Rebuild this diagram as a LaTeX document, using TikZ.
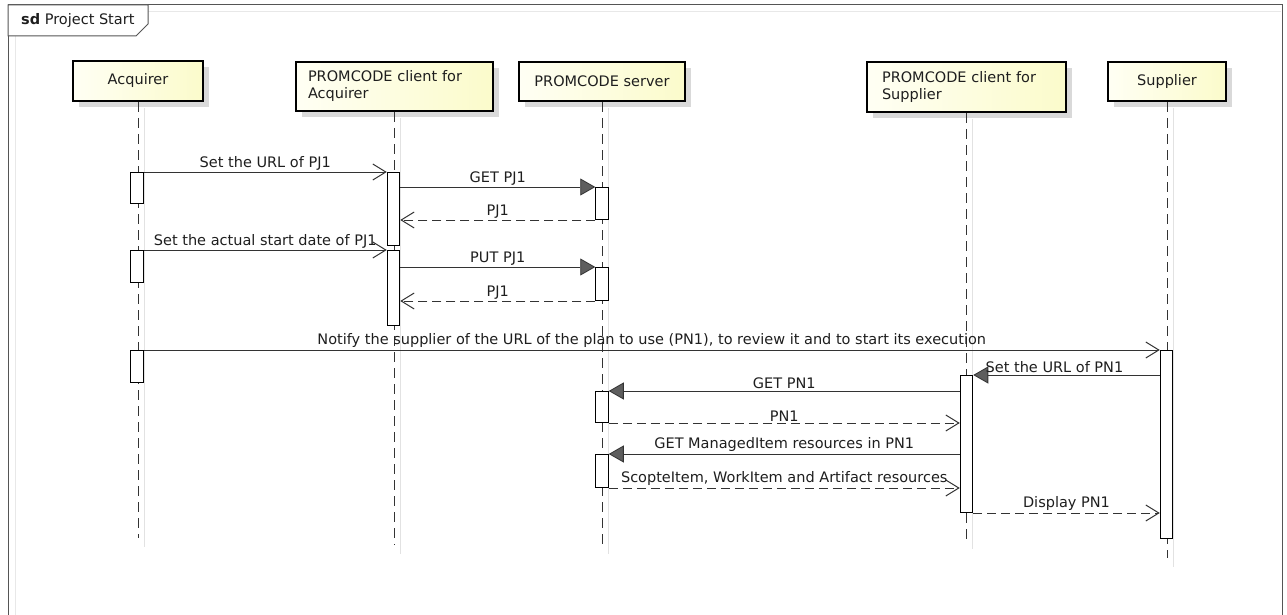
\documentclass[tikz,border=0pt]{standalone}
\usepackage{fontspec}
\setmainfont{DejaVu Sans}
\usetikzlibrary{arrows.meta,shadows,calc}
\definecolor{frameC}{HTML}{555555}
\definecolor{innerC}{HTML}{E8E8E8}
\definecolor{hdL}{HTML}{FFFFF4}
\definecolor{hdR}{HTML}{FBFBCB}
\definecolor{shadowC}{HTML}{D9D9D9}
\definecolor{lineC}{HTML}{333333}
\definecolor{lifeShC}{HTML}{E2E2E2}
\definecolor{tipC}{HTML}{5E5E5E}
\definecolor{txtC}{HTML}{1E1E1E}
\begin{document}
\begin{tikzpicture}[x=1pt,y=-1pt,
  font=\fontsize{14.5}{17}\selectfont, text=txtC,
  frameline/.style={draw=frameC, line width=1pt},
  innerline/.style={draw=innerC, line width=1pt},
  headbox/.style={draw=black, line width=2pt, left color=hdL, right color=hdR, inner sep=0pt,
    general shadow={fill=shadowC, shadow xshift=6pt, shadow yshift=-6pt}},
  lifeline/.style={draw=lineC, line width=1pt, dash pattern=on 10pt off 6pt},
  lifeshadow/.style={draw=lifeShC, line width=1pt},
  actbar/.style={draw=black, fill=white, line width=1pt, inner sep=0pt, minimum width=12.5pt, anchor=north},
  msg/.style={draw=lineC, line width=1pt},
  openarrow/.style={msg, -{Straight Barb[length=13pt, width=16pt, line width=1pt]}},
  fillarrow/.style={msg, -{Triangle[length=15pt, width=17pt, fill=tipC, color=lineC, line width=0.8pt]}},
  retarrow/.style={openarrow, dash pattern=on 9pt off 5pt},
  lbl/.style={above, inner sep=1.5pt}
]
\useasboundingbox (0,0) rectangle (1287,615);

% frame
\draw[innerline] (148,12) -- (1281,12);
\draw[innerline] (15,36) -- (15,615);
\draw[frameline] (8,615) -- (8,5) -- (1282,5) -- (1282,615);
\draw[frameline, fill=white] (8,5) -- (148,5) -- (148,24) -- (136,36) -- (8,36) -- cycle;
\node[anchor=west, inner sep=0pt] (title) at (21,21) {\textbf{sd} Project Start};

% heads
\node[headbox, minimum width=130pt, minimum height=40pt] (acq) at (138,81) {Acquirer};
\node[headbox, minimum width=197pt, minimum height=49pt, align=left, text width=173pt] (ca) at (394.5,86.5) {PROMCODE client for\\Acquirer};
\node[headbox, minimum width=166pt, minimum height=39pt] (srv) at (602,81.5) {PROMCODE server};
\node[headbox, minimum width=199pt, minimum height=50pt, align=left, text width=169pt] (cs) at (966.5,87) {PROMCODE client for\\Supplier};
\node[headbox, minimum width=118pt, minimum height=39pt] (sup) at (1167,81.5) {Supplier};

% lifeline ends
\coordinate (acqE) at (138,538);
\coordinate (caE) at (394.5,545);
\coordinate (srvE) at (602,545);
\coordinate (csE) at (966.5,540);
\coordinate (supE) at (1167,558);

\foreach \h in {acq,ca,srv,cs,sup}{
  \draw[lifeshadow] ($(\h.south)+(6,6)$) -- ($(\h E)+(6,9)$);
  \draw[lifeline] (\h.south) -- (\h E);
}

% activation bars
\node[actbar, minimum height=31pt] (acqB1) at (137,172) {};
\node[actbar, minimum height=32pt] (acqB2) at (137,250) {};
\node[actbar, minimum height=32pt] (acqB3) at (137,350) {};
\node[actbar, minimum height=73pt] (caB1) at (393.5,172) {};
\node[actbar, minimum height=75pt] (caB2) at (393.5,250) {};
\node[actbar, minimum height=32pt] (srvB1) at (602,187) {};
\node[actbar, minimum height=33pt] (srvB2) at (602,267) {};
\node[actbar, minimum height=31pt] (srvB3) at (602,391) {};
\node[actbar, minimum height=33pt] (srvB4) at (602,454) {};
\node[actbar, minimum height=137pt] (csB1) at (966.5,375) {};
\node[actbar, minimum height=188pt] (supB1) at (1166.5,350) {};

% messages
\draw[openarrow] (acqB1.north east) -- node[lbl] {Set the URL of PJ1} (caB1.north west);
\draw[fillarrow] (caB1.east |- srvB1.north) -- node[lbl] {GET PJ1} (srvB1.north west);
\draw[retarrow] (srvB1.south west) -- node[lbl] {PJ1} (caB1.east |- srvB1.south);
\draw[openarrow] (acqB2.north east) -- node[lbl] {Set the actual start date of PJ1} (caB2.north west);
\draw[fillarrow] (caB2.east |- srvB2.north) -- node[lbl] {PUT PJ1} (srvB2.north west);
\draw[retarrow] (srvB2.south west) -- node[lbl] {PJ1} (caB2.east |- srvB2.south);
\draw[openarrow] (acqB3.north east) -- node[lbl] {Notify the supplier of the URL of the plan to use (PN1), to review it and to start its execution} (supB1.north west);
\draw[fillarrow] (supB1.west |- csB1.north) -- node[lbl, xshift=-12pt] {Set the URL of PN1} (csB1.north east);
\draw[fillarrow] (csB1.west |- srvB3.north) -- node[lbl] {GET PN1} (srvB3.north east);
\draw[retarrow] (srvB3.south east) -- node[lbl] {PN1} (csB1.west |- srvB3.south);
\draw[fillarrow] (csB1.west |- srvB4.north) -- node[lbl] {GET ManagedItem resources in PN1} (srvB4.north east);
\draw[retarrow] (srvB4.south east) -- node[lbl] {ScopteItem, WorkItem and Artifact resources} (csB1.west |- srvB4.south);
\draw[retarrow] (csB1.south east) -- node[lbl] {Display PN1} (supB1.west |- csB1.south);
\end{tikzpicture}
\end{document}
